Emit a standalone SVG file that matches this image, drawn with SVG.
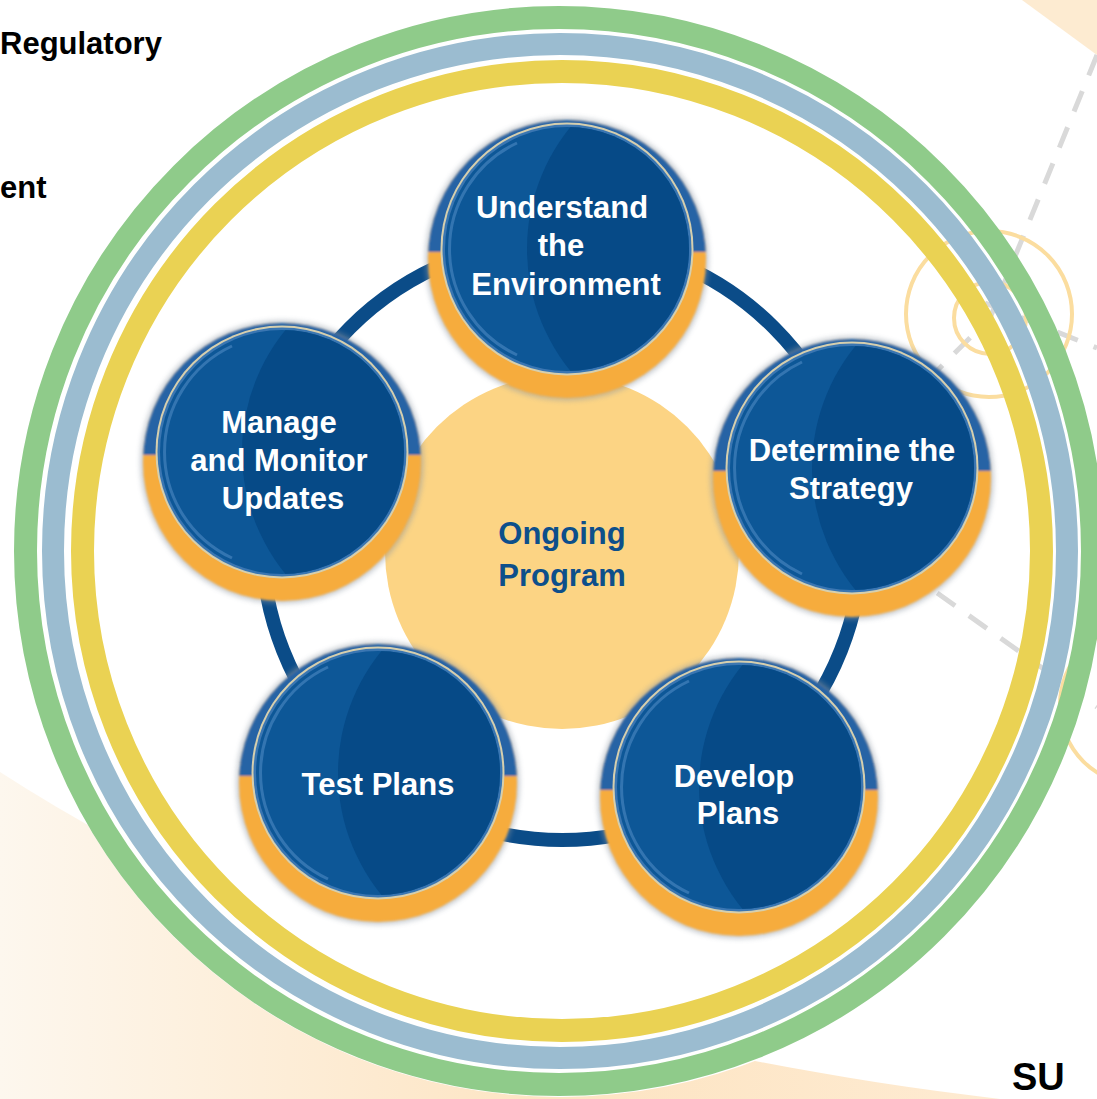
<svg xmlns="http://www.w3.org/2000/svg" width="1097" height="1099" viewBox="0 0 1097 1099">
<style>
.lbl{font-family:"Liberation Sans",Arial,sans-serif;font-weight:bold;font-size:31px;fill:#ffffff;text-anchor:middle}
.ctr{font-family:"Liberation Sans",Arial,sans-serif;font-weight:bold;font-size:31px;fill:#0D4F8B;text-anchor:middle}
.side{font-family:"Liberation Sans",Arial,sans-serif;font-weight:bold;font-size:31px;fill:#000000}
.dash{stroke:#D9D9D9;stroke-width:5;stroke-dasharray:22 17;fill:none}
.pale{fill:none;stroke:#FBDD9F;stroke-width:4}
.ring{fill:none}
</style>
<defs>
  <linearGradient id="peach" x1="0" y1="0" x2="1" y2="0">
    <stop offset="0" stop-color="#FDF7EE"/>
    <stop offset="0.55" stop-color="#FDE4C2"/>
    <stop offset="1" stop-color="#FEEBD2"/>
  </linearGradient>
  <filter id="soft" x="-20%" y="-20%" width="140%" height="140%"><feGaussianBlur stdDeviation="2.5"/></filter>
  <filter id="edge" x="-10%" y="-10%" width="120%" height="120%"><feGaussianBlur stdDeviation="0.8"/></filter>
  <clipPath id="outerClip"><circle r="139"/></clipPath>
  <clipPath id="innerClip"><circle cy="-10" r="122"/></clipPath>
  <g id="nodeBase">
    <circle r="142" fill="#8C96A3" opacity="0.45" filter="url(#soft)"/>
    <g filter="url(#edge)">
      <circle r="139" fill="#F6AC3E"/>
      <rect x="-140" y="-140" width="280" height="133" fill="#2564A5" clip-path="url(#outerClip)"/>
    </g>
    <circle cy="-10" r="126.5" fill="#D6CFAE"/>
    <circle cy="-10" r="124.5" fill="#3A76B2"/>
    <circle cy="-10" r="122" fill="#0D5797"/>
    <circle cx="153" cy="-10" r="193" fill="#064A87" clip-path="url(#innerClip)"/>
    <path d="M -50,-116 A 117 117 0 0 0 -50,96" fill="none" stroke="#4C88C3" stroke-width="3" opacity="0.6"/>
  </g>
</defs>

<g id="background">
  <rect width="1097" height="1099" fill="#ffffff"/>
  <path d="M0,772 C200,900 500,1040 1000,1099 L0,1099 Z" fill="url(#peach)"/>
  <polygon points="1022,0 1097,0 1097,55" fill="#FDEBD1"/>
  <circle cx="560" cy="551" r="546" fill="#ffffff"/>
  <path class="dash" d="M1097,55 L990,318 L807,500 L1097,707"/>
  <path class="dash" d="M985,303 L1097,348"/>
  <circle class="pale" cx="989" cy="314" r="83"/>
  <circle class="pale" cx="990" cy="318" r="36"/>
  <circle class="pale" cx="1140" cy="705" r="80"/>
</g>

<g id="rings">
  <circle class="ring" cx="559" cy="551" r="533.5" stroke="#8FCB8A" stroke-width="23"/>
  <circle class="ring" cx="560" cy="551" r="507" stroke="#9BBCD0" stroke-width="22"/>
  <circle class="ring" cx="562" cy="551" r="479.5" stroke="#EAD253" stroke-width="23"/>
</g>

<g id="connectors">
  <circle cx="562" cy="540" r="300" fill="none" stroke="#0B4C88" stroke-width="14"/>
</g>

<g id="node-center">
  <circle cx="562" cy="552" r="177" fill="#FCD484"/>
  <text class="ctr" x="562" y="544">Ongoing</text>
  <text class="ctr" x="562" y="586">Program</text>
</g>

<g id="node-understand">
  <use href="#nodeBase" x="567" y="259"/>
  <text class="lbl" x="562" y="218">Understand</text>
  <text class="lbl" x="561" y="256">the</text>
  <text class="lbl" x="566" y="295">Environment</text>
</g>

<g id="node-determine">
  <use href="#nodeBase" x="852" y="478"/>
  <text class="lbl" x="852" y="461">Determine the</text>
  <text class="lbl" x="851" y="499">Strategy</text>
</g>

<g id="node-develop">
  <use href="#nodeBase" x="739" y="797"/>
  <text class="lbl" x="734" y="787">Develop</text>
  <text class="lbl" x="738" y="824">Plans</text>
</g>

<g id="node-test">
  <use href="#nodeBase" x="378" y="783"/>
  <text class="lbl" x="378" y="795">Test Plans</text>
</g>

<g id="node-manage">
  <use href="#nodeBase" x="282" y="462"/>
  <text class="lbl" x="279" y="433">Manage</text>
  <text class="lbl" x="279" y="471">and Monitor</text>
  <text class="lbl" x="283" y="509">Updates</text>
</g>

<g id="side-text">
  <text class="side" x="0" y="54">Regulatory</text>
  <text class="side" x="0" y="198">ent</text>
  <text class="side" x="1012" y="1090" style="font-size:38px">SU</text>
</g>
</svg>
